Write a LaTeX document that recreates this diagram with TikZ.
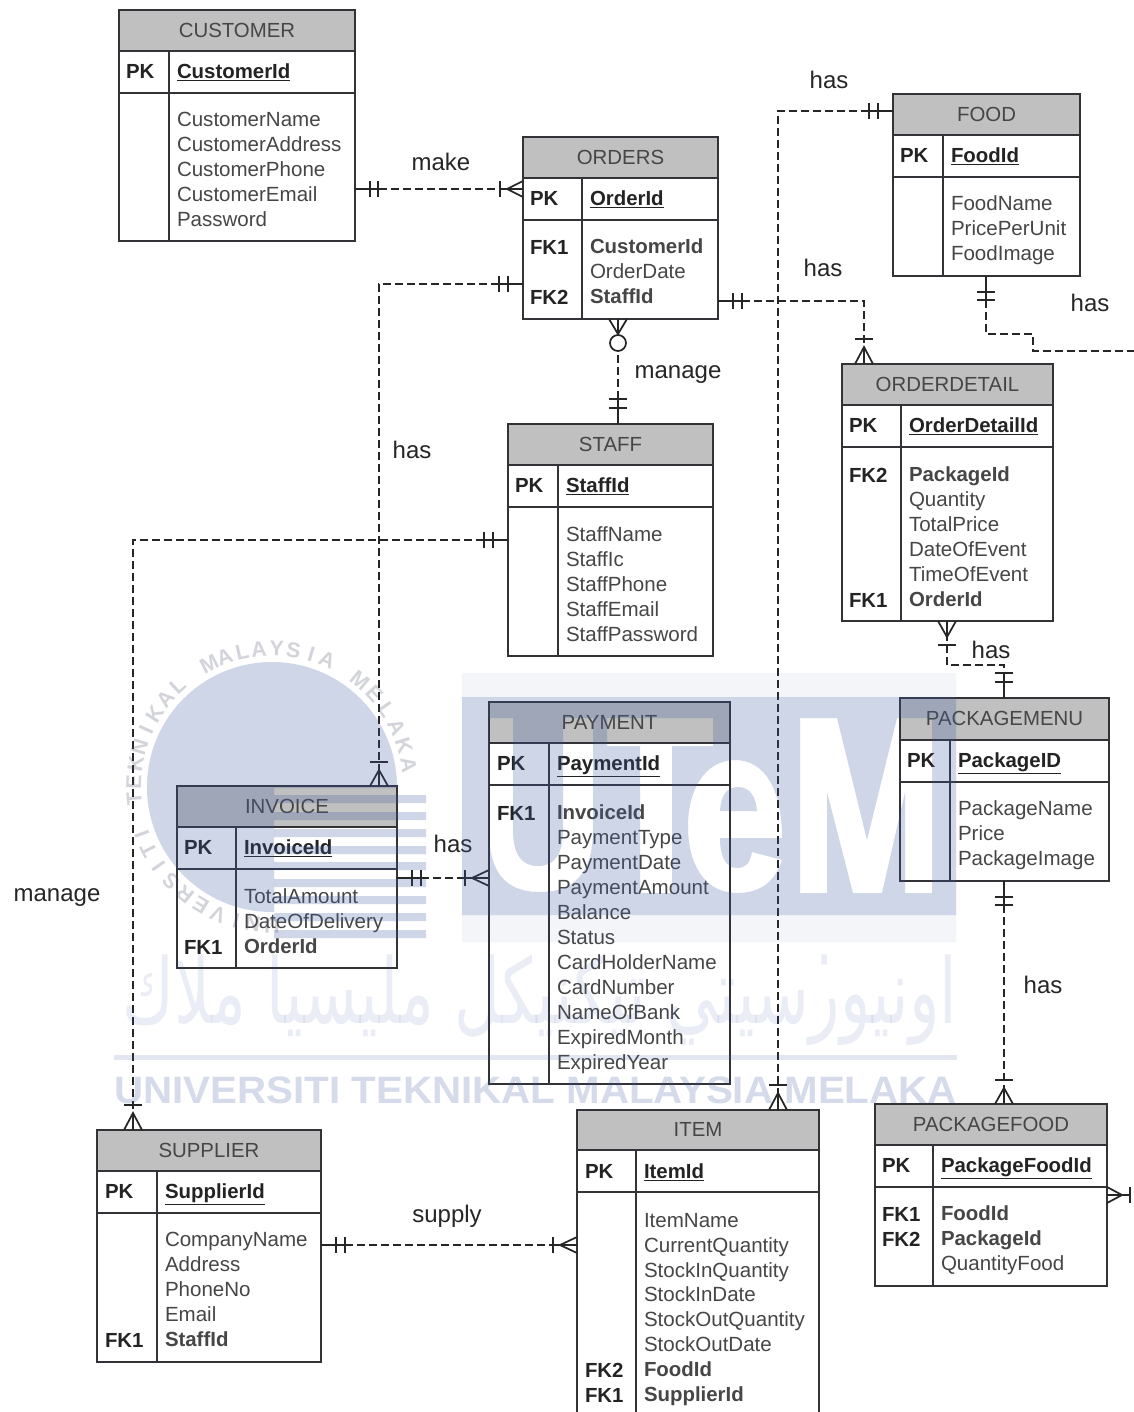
\documentclass[tikz,border=0pt]{standalone}
\usepackage{fontspec}
\usepackage{graphicx}
\setmainfont{Liberation Sans}
\newfontfamily\arabicfont[Script=Arabic]{DejaVu Sans}
\TeXXeTstate=1
\definecolor{hdr}{RGB}{192,192,192}
\definecolor{tline}{RGB}{50,50,55}
\definecolor{txtreg}{RGB}{70,70,70}
\definecolor{txtbold}{RGB}{35,35,35}
\definecolor{wmblue}{RGB}{64,92,164}
\definecolor{wmgray}{RGB}{80,85,110}
\newcommand{\bk}[1]{{\fontsize{15.3}{18.7}\bfseries\selectfont #1}}
\tikzset{
  tbl/.style={draw=tline,line width=1pt},
  hdrbox/.style={rectangle,tbl,fill=hdr,inner sep=0pt,outer sep=0pt,text=txtreg,font=\fontsize{15.3}{18}\selectfont},
  rowbox/.style={rectangle,tbl,fill=white,inner sep=0pt,outer sep=0pt},
  keyb/.style={anchor=west,inner sep=0pt,outer sep=0pt,text=txtbold,text height=11pt,text depth=0pt,font=\fontsize{15.3}{18}\bfseries\selectfont},
  attrs/.style={anchor=north west,inner sep=0pt,outer sep=0pt,align=left,text=txtreg,font=\fontsize{15.4}{18.7}\selectfont},
  rel/.style={draw=black!85,line width=1.4pt,dash pattern=on 6pt off 3pt},
  mk/.style={draw=black!85,line width=1.3pt},
  lbl/.style={inner sep=0pt,text=black!85,font=\fontsize{18}{20}\selectfont},
  wmark/.style={inner sep=0pt,text=wmblue,opacity=.2},
}
\newcommand{\ertable}[9]{%
  \node[hdrbox,minimum width={(#4-#2)*0.75pt},minimum height={(#6-#5)*0.75pt}] (#1head) at ({(#2+#4)/2},{(#5+#6)/2}) {\raisebox{.75pt}{#9}\hspace{1.2pt}};
  \node[rowbox,minimum width={(#4-#2)*0.75pt},minimum height={(#7-#6)*0.75pt}] (#1pk) at ({(#2+#4)/2},{(#6+#7)/2}) {};
  \node[rowbox,minimum width={(#4-#2)*0.75pt},minimum height={(#8-#7)*0.75pt}] (#1body) at ({(#2+#4)/2},{(#7+#8)/2}) {};
  \draw[tbl] (#1pk.north -| #3,0) -- (#1body.south -| #3,0);
}
\newcommand{\barV}[2]{\draw[mk] ({#1},{#2-8}) -- ({#1},{#2+8});}
\newcommand{\barH}[2]{\draw[mk] ({#1-9},{#2}) -- ({#1+9},{#2});}
\newcommand{\crowH}[3]{\draw[mk] ({#2},{#3-8}) -- ({#1},{#3}) -- ({#2},{#3+8}) ({#1},{#3}) -- ({#2},{#3});}
\newcommand{\crowV}[3]{\draw[mk] ({#1-9},{#3}) -- ({#1},{#2}) -- ({#1+9},{#3}) ({#1},{#2}) -- ({#1},{#3});}
\begin{document}
\begin{tikzpicture}[x=0.75pt,y=-0.75pt]
\useasboundingbox (0,0) rectangle (1133,1412);
\fill[white] (0,0) rectangle (1133,1412);

% ---------- tables
\ertable{customer}{119}{169}{355}{10}{51}{93}{241}{CUSTOMER}
\node[keyb] (customerk) at (126,71) {PK};
\node[keyb] (customerid) at (177,71) {\underline{CustomerId}};
\node[attrs] (customerat) at (177,112) {CustomerName\\CustomerAddress\\CustomerPhone\\CustomerEmail\\Password};

\ertable{orders}{523}{582}{718}{137}{178}{220}{319}{ORDERS}
\node[keyb] (ordersk) at (530,198) {PK};
\node[keyb] (ordersid) at (590,198) {\underline{OrderId}};
\node[keyb] (ordersf) at (530,247) {FK1};
\node[keyb] (ordersg) at (530,297) {FK2};
\node[attrs] (ordersat) at (590,239) {\bk{CustomerId}\\OrderDate\\\bk{StaffId}};

\ertable{staff}{508}{558}{713}{424}{465}{507}{656}{STAFF}
\node[keyb] (staffk) at (515,485) {PK};
\node[keyb] (staffid) at (566,485) {\underline{StaffId}};
\node[attrs] (staffat) at (566,527) {StaffName\\StaffIc\\StaffPhone\\StaffEmail\\StaffPassword};

\ertable{food}{893}{943}{1080}{94}{135}{177}{276}{FOOD}
\node[keyb] (foodk) at (900,155) {PK};
\node[keyb] (foodid) at (951,155) {\underline{FoodId}};
\node[attrs] (foodat) at (951,196) {FoodName\\PricePerUnit\\FoodImage};

\ertable{detail}{842}{901}{1053}{364}{405}{447}{621}{ORDERDETAIL}
\node[keyb] (detailk) at (849,425) {PK};
\node[keyb] (detailid) at (909,425) {\underline{OrderDetailId}};
\node[keyb] (detailf) at (849,475) {FK2};
\node[keyb] (detailg) at (849,600) {FK1};
\node[attrs] (detailat) at (909,467) {\bk{PackageId}\\Quantity\\TotalPrice\\DateOfEvent\\TimeOfEvent\\\bk{OrderId}};

\ertable{menu}{900}{950}{1109}{698}{740}{782}{881}{PACKAGEMENU}
\node[keyb] (menuk) at (907,760) {PK};
\node[keyb] (menuid) at (958,760) {\underline{PackageID}};
\node[attrs] (menuat) at (958,801) {PackageName\\Price\\PackageImage};

\ertable{payment}{489}{549}{730}{702}{743}{785}{1084}{PAYMENT}
\node[keyb] (paymentk) at (497,763) {PK};
\node[keyb] (paymentid) at (557,763) {\underline{PaymentId}};
\node[keyb] (paymentf) at (497,813) {FK1};
\node[attrs] (paymentat) at (557,805) {\bk{InvoiceId}\\PaymentType\\PaymentDate\\PaymentAmount\\Balance\\Status\\CardHolderName\\CardNumber\\NameOfBank\\ExpiredMonth\\ExpiredYear};

\ertable{invoice}{177}{236}{397}{786}{827}{869}{968}{INVOICE}
\node[keyb] (invoicek) at (184,847) {PK};
\node[keyb] (invoiceid) at (244,847) {\underline{InvoiceId}};
\node[keyb] (invoicef) at (184,947) {FK1};
\node[attrs] (invoiceat) at (244,889) {TotalAmount\\DateOfDelivery\\\bk{OrderId}};

\ertable{supplier}{97}{157}{321}{1130}{1171}{1213}{1362}{SUPPLIER}
\node[keyb] (supplierk) at (105,1191) {PK};
\node[keyb] (supplierid) at (165,1191) {\underline{SupplierId}};
\node[keyb] (supplierf) at (105,1340) {FK1};
\node[attrs] (supplierat) at (165,1232) {CompanyName\\Address\\PhoneNo\\Email\\\bk{StaffId}};

\ertable{item}{577}{636}{819}{1110}{1150}{1192}{1425}{ITEM}
\node[keyb] (itemk) at (585,1171) {PK};
\node[keyb] (itemid) at (644,1171) {\underline{ItemId}};
\node[keyb] (itemf) at (585,1370) {FK2};
\node[keyb] (itemg) at (585,1395) {FK1};
\node[attrs] (itemat) at (644,1213) {ItemName\\CurrentQuantity\\StockInQuantity\\StockInDate\\StockOutQuantity\\StockOutDate\\\bk{FoodId}\\\bk{SupplierId}};

\ertable{pfood}{875}{933}{1107}{1104}{1145}{1187}{1286}{PACKAGEFOOD}
\node[keyb] (pfoodk) at (882,1165) {PK};
\node[keyb] (pfoodid) at (941,1165) {\underline{PackageFoodId}};
\node[keyb] (pfoodf) at (882,1214) {FK1};
\node[keyb] (pfoodg) at (882,1239) {FK2};
\node[attrs] (pfoodat) at (941,1206) {\bk{FoodId}\\\bk{PackageId}\\QuantityFood};

% ---------- connectors
\coordinate (offright) at (1135,351);
\coordinate (offrightb) at (1130,1195);

\draw[rel] (customerbody.east |- 0,189) -- (orderspk.west |- 0,189);
\draw[mk] (355,189) -- (378,189) (500,189) -- (507,189);
\barV{370}{189}\barV{378}{189}\barV{500}{189}\crowH{507}{523}{189}

\draw[rel] (ordersbody.west |- 0,284) -| (invoicehead.north -| 379,0);
\draw[mk] (523,284) -- (499,284);
\barV{508}{284}\barV{499}{284}\barH{379}{762}\crowV{379}{770}{786}

\draw[rel] (ordersbody.east |- 0,301) -| (detailhead.north -| 864,0);
\draw[mk] (718,301) -- (742,301);
\barV{733}{301}\barV{742}{301}\barH{864}{339}\crowV{864}{347}{364}

\draw[rel] (ordersbody.south -| 618,0) -- (staffhead.north -| 618,0);
\crowV{618}{334}{319}
\draw[mk,fill=white] (618,343) circle[radius=8];
\barH{618}{399}\barH{618}{408}
\draw[mk] (618,399) -- (618,424);

\draw[rel] (staffbody.west |- 0,540) -| (supplierhead.north -| 133,0);
\draw[mk] (508,540) -- (484,540);
\barV{493}{540}\barV{484}{540}\barH{133}{1105}\crowV{133}{1113}{1130}

\draw[rel] (foodhead.west |- 0,111) -| (itemhead.north -| 778,0);
\draw[mk] (893,111) -- (869,111);
\barV{878}{111}\barV{869}{111}\barH{778}{1085}\crowV{778}{1093}{1110}

\draw[rel] (foodbody.south -| 986,0) |- (1033,334) |- (offright);
\draw[mk] (986,276) -- (986,300);
\barH{986}{292}\barH{986}{300}

\draw[rel] (pfoodbody.east |- offrightb) -- (offrightb);
\draw[mk] (1107,1195) -- (offrightb);
\crowH{1122}{1107}{1195}
\draw[mk] (1130,1187) -- (1130,1203);

\draw[rel] (invoicebody.east |- 0,878) -- (paymentbody.west |- 0,878);
\draw[mk] (397,878) -- (421,878) (465,878) -- (472,878);
\barV{412}{878}\barV{421}{878}\barV{465}{878}\crowH{472}{489}{878}

\draw[rel] (supplierbody.east |- 0,1245) -- (itembody.west |- 0,1245);
\draw[mk] (321,1245) -- (345,1245) (553,1245) -- (560,1245);
\barV{336}{1245}\barV{345}{1245}\barV{553}{1245}\crowH{560}{577}{1245}

\draw[rel] (detailbody.south -| 947,0) |- (1004,665) -- (menuhead.north -| 1004,0);
\crowV{947}{637}{621}
\barH{947}{645}
\draw[mk] (1004,673) -- (1004,698);
\barH{1004}{673}\barH{1004}{682}

\draw[rel] (menubody.south -| 1004,0) -- (pfoodhead.north -| 1004,0);
\draw[mk] (1004,881) -- (1004,905);
\barH{1004}{897}\barH{1004}{905}\barH{1004}{1080}\crowV{1004}{1088}{1104}

% ---------- relationship labels
\node[lbl] (lmake) at (441,162) {make};
\node[lbl] (lhas1) at (829,80) {has};
\node[lbl] (lhas2) at (823,268) {has};
\node[lbl] (lhas3) at (1090,303) {has};
\node[lbl] (lmanage1) at (678,375) {manage};
\node[lbl] (lhas4) at (412,450) {has};
\node[lbl] (lhas5) at (991,650) {has};
\node[lbl] (lmanage2) at (57,898) {manage};
\node[lbl] (lhas6) at (453,844) {has};
\node[lbl] (lhas7) at (1043,985) {has};
\node[lbl] (lsupply) at (447,1216) {supply};

% ---------- watermark (drawn over everything)
\begin{scope}
  \clip (0,0) rectangle (1133,788) (0,788) rectangle (274,1412);
  \fill[wmblue,opacity=.25] (272,787) circle[radius=125];
\end{scope}
\fill[wmblue,opacity=.25]
  (274,795) rectangle (426,803)
  (274,812) rectangle (426,820)
  (274,829) rectangle (426,837)
  (274,846) rectangle (426,854)
  (274,862) rectangle (426,870)
  (274,879) rectangle (426,887)
  (274,896) rectangle (426,904)
  (274,913) rectangle (426,921)
  (274,930) rectangle (426,938);
\foreach \ch/\ang [count=\i] in {U/270,N/262,I/255,V/247,E/239,R/231,S/223,I/215,T/207,I/200,
    T/185,E/178,K/170.5,N/163,I/155.5,K/148,A/140.5,L/133,
    M/117,A/110,L/102.5,A/95.5,Y/88,S/81,I/73.5,A/66.5,
    M/50.6,E/42.3,L/34,A/25.7,K/17.4,A/9}
  \node[inner sep=0pt,text=wmgray,opacity=.25,font=\fontsize{16}{18}\bfseries\selectfont,rotate=\ang-90,anchor=base]
    (ring\i) at ({272+131*cos(\ang)},{787-131*sin(\ang)}) {\ch};

\fill[wmblue,opacity=.06,even odd rule] (462,673) rectangle (956,942) (462,697) rectangle (956,915);
\fill[wmblue,opacity=.25,even odd rule] (462,697) rectangle (956,915)
  % U
  (489,718) -- (513,718) -- (513,830) .. controls (513,855) and (522,866) .. (538,866)
    .. controls (554,866) and (563,855) .. (563,830) -- (563,718) -- (593,718) -- (593,830)
    .. controls (593,872) and (575,892) .. (540,892) .. controls (505,892) and (489,872) .. (489,830) -- cycle
  % T
  (607,718) -- (713,718) -- (713,746) -- (672,746) -- (672,893) -- (640,893) -- (640,746) -- (607,746) -- cycle
  % e
  (782,838) .. controls (782,790) and (765,760) .. (735,760) .. controls (705,760) and (688,790) .. (688,826)
    .. controls (688,865) and (705,893) .. (737,893) .. controls (760,893) and (775,882) .. (782,860)
    -- (752,852) .. controls (750,864) and (745,868) .. (737,868) .. controls (725,868) and (720,855) .. (720,838) -- cycle
  (720,811) .. controls (721,795) and (727,787) .. (738,787) .. controls (750,787) and (756,797) .. (757,811) -- cycle
  % M
  (800,718) -- (837,718) -- (867,840) -- (897,718) -- (932,718) -- (932,893) -- (905,893) -- (905,792)
    -- (882,893) -- (853,893) -- (827,792) -- (827,893) -- (800,893) -- cycle;

\fill[wmblue,opacity=.15] (114,1055) rectangle (957,1060);
\node[wmark,opacity=.11] (wmjawi) at (540,1000) {\resizebox*{626pt}{68pt}{\arabicfont\beginR اونيو̇رسيتي تيكنيكل مليسيا ملاك\endR}};
\node[wmark,opacity=.22] (wmname) at (535.5,1090) {\resizebox{632pt}{20pt}{\bfseries UNIVERSITI TEKNIKAL MALAYSIA MELAKA}};
\end{tikzpicture}
\end{document}
